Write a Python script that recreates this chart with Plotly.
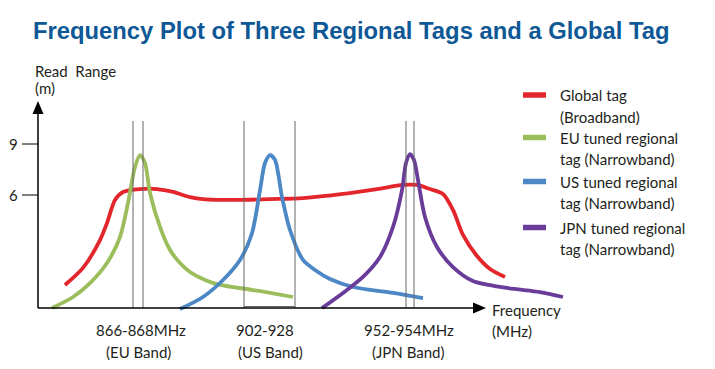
import plotly.graph_objects as go

W, H = 715, 369

# ---- data (schematic frequency position along the axis, read range in m) ----
global_x = [27, 45, 62, 69, 77, 85, 102, 119, 135, 152, 165, 199, 232, 265, 305, 339, 365, 379, 392, 405, 415, 425, 439, 452, 467]
global_y = [0.71, 1.71, 3.35, 4.35, 5.71, 6.18, 6.35, 6.35, 6.18, 5.88, 5.76, 5.71, 5.76, 5.82, 6.06, 6.35, 6.59, 6.59, 6.35, 6.06, 5.12, 3.65, 2.41, 1.65, 1.18]

eu_x = [14, 35, 52, 69, 82, 90, 97, 102, 107, 112, 122, 132, 142, 152, 167, 182, 215, 255]
eu_y = [-0.65, 0.0, 0.82, 2.0, 3.53, 5.53, 7.65, 8.35, 7.88, 6.12, 4.12, 2.76, 2.0, 1.47, 1.0, 0.71, 0.41, 0.0]

us_x = [142, 165, 185, 202, 214, 222, 227, 232, 237, 244, 252, 265, 277, 292, 315, 355, 385]
us_y = [-0.71, 0.0, 1.0, 2.18, 3.76, 6.29, 7.88, 8.35, 8.06, 5.88, 3.94, 2.18, 1.59, 1.06, 0.59, 0.24, -0.06]

jpn_x = [284, 305, 325, 342, 355, 364, 368, 372, 376, 380, 387, 399, 415, 435, 469, 502, 525]
jpn_y = [-0.65, 0.24, 1.18, 2.35, 4.12, 6.29, 7.88, 8.41, 8.06, 6.88, 4.71, 2.94, 1.76, 0.94, 0.53, 0.29, 0.0]

series_names = [
    ["Global tag", "(Broadband)"],
    ["EU tuned regional", "tag (Narrowband)"],
    ["US tuned regional", "tag (Narrowband)"],
    ["JPN tuned regional", "tag (Narrowband)"],
]
series_colors = ["#e3262c", "#9cbd5b", "#4c87c6", "#6a3c9a"]

band_edges = [[95, 105], [206, 257], [368, 376]]
band_labels = [["866-868MHz", "(EU Band)"], ["902-928", "(US Band)"], ["952-954MHz", "(JPN Band)"]]
band_label_x = [[141, 138], [265, 270], [409, 408]]

y_ticks = [9, 6]
title_text = "Frequency Plot of Three Regional Tags and a Global Tag"

# ---- scales: pixel helpers for layout placement ----
X0_PX = 38          # pixel column of the y axis (x = 0)
Y6_PX, PX_PER_M = 195, 17.0


def xr(px):
    return px - X0_PX


def yr(py):
    return 6 + (Y6_PX - py) / PX_PER_M


def xp(px):
    return px / W


def yp(py):
    return 1 - py / H


FONT = "Lato"
TXT = "#231f20"
GRID = "#666666"

fig = go.Figure()
for xs, ys, nm, col in zip([global_x, eu_x, us_x, jpn_x], [global_y, eu_y, us_y, jpn_y],
                           series_names, series_colors):
    fig.add_trace(go.Scatter(x=xs, y=ys, mode="lines", name=" ".join(nm),
                             line=dict(color=col, width=3.8, shape="spline", smoothing=0.8),
                             showlegend=False, hoverinfo="skip"))

shapes = []
base_y = yr(308)
# band marker lines
for (a, b) in band_edges:
    for xv in (a, b):
        shapes.append(dict(type="line", x0=xv, x1=xv, y0=yr(121), y1=base_y,
                           line=dict(color=GRID, width=1)))
# US band box bottom
shapes.append(dict(type="line", x0=band_edges[1][0], x1=band_edges[1][1], y0=yr(306.5), y1=yr(306.5),
                   line=dict(color=GRID, width=1)))
# axes
shapes.append(dict(type="line", x0=0, x1=0, y0=base_y, y1=yr(112), line=dict(color="black", width=1.5)))
shapes.append(dict(type="line", x0=0, x1=xr(475), y0=base_y, y1=base_y, line=dict(color="black", width=1.5)))
shapes.append(dict(type="path",
                   path=f"M {xr(32.5)},{yr(114)} L {xr(43.5)},{yr(114)} L 0,{yr(101)} Z",
                   fillcolor="black", line=dict(color="black", width=0)))
shapes.append(dict(type="path",
                   path=f"M {xr(473)},{yr(302.5)} L {xr(473)},{yr(313.5)} L {xr(486)},{base_y} Z",
                   fillcolor="black", line=dict(color="black", width=0)))
# y ticks
for t in y_ticks:
    shapes.append(dict(type="line", x0=xr(22), x1=0, y0=t, y1=t, line=dict(color="black", width=1)))

annotations = []


def txt(text, x, y, anchor="left", size=15, color=TXT, family=FONT, bold=False):
    annotations.append(dict(text=f"<b>{text}</b>" if bold else text, x=xp(x), y=yp(y),
                            xref="paper", yref="paper", xanchor=anchor, yanchor="middle",
                            showarrow=False, font=dict(family=family, size=size, color=color)))


txt(title_text, 31, 30, size=23.8, color="#0e5896", family="Liberation Sans", bold=True)
txt("Read&nbsp;&nbsp;Range", 33, 71)
txt("(m)", 33, 88)
for t in y_ticks:
    annotations.append(dict(text=str(t), x=xp(13), y=t, xref="paper", yref="y", xanchor="center",
                            yanchor="middle", showarrow=False, font=dict(family=FONT, size=15, color=TXT)))
for (l1, l2), (c1, c2) in zip(band_labels, band_label_x):
    txt(l1, c1, 330, anchor="center")
    txt(l2, c2, 352, anchor="center")
txt("Frequency", 490, 310)
txt("(MHz)", 490, 331)

legend_rows = [95, 137.5, 181.5, 227.5]
for (n1, n2), col, ry in zip(series_names, series_colors, legend_rows):
    shapes.append(dict(type="line", xref="paper", yref="paper", x0=xp(523), x1=xp(546),
                       y0=yp(ry), y1=yp(ry), line=dict(color=col, width=5.5)))
    txt(n1, 558, ry)
    txt(n2, 558, ry + 21.5)

fig.update_layout(
    width=W, height=H, margin=dict(l=0, r=0, t=0, b=0, pad=0),
    paper_bgcolor="white", plot_bgcolor="white",
    xaxis=dict(range=[xr(0), xr(W)], visible=False, fixedrange=True),
    yaxis=dict(range=[yr(H), yr(0)], visible=False, fixedrange=True),
    shapes=shapes, annotations=annotations, showlegend=False,
)

fig.write_html("out.html", config={"displayModeBar": False},
               post_script="document.body.style.margin='0';")
